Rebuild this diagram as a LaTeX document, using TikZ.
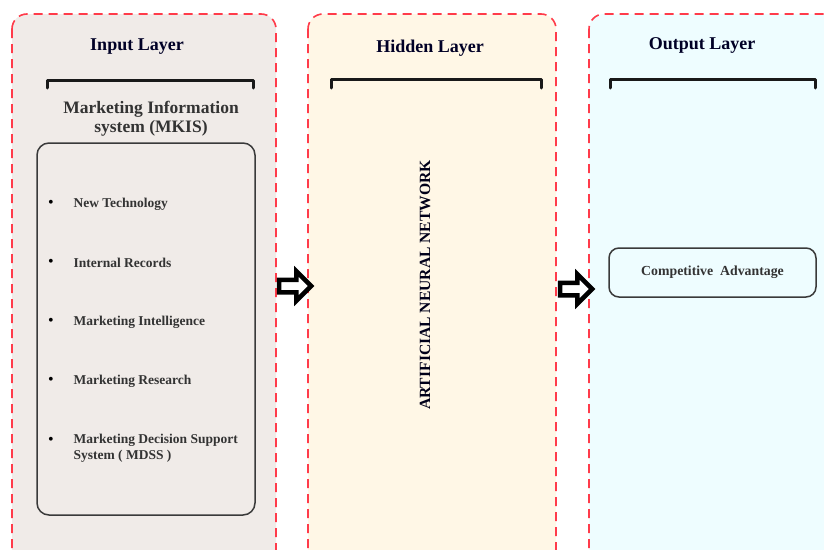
\documentclass[tikz,border=0pt]{standalone}
\usepackage{fontspec}
\setmainfont{Liberation Serif}
\usetikzlibrary{shapes.arrows}

\definecolor{dashred}{HTML}{FF3B4A}
\definecolor{inputfill}{HTML}{F0EBE8}
\definecolor{hiddenfill}{HTML}{FFF7E6}
\definecolor{outputfill}{HTML}{EEFDFF}
\definecolor{boxline}{HTML}{3A3A3A}

\tikzset{
  panel/.style={draw=dashred, dashed, dash pattern=on 9pt off 6pt, line width=1.6pt, rounded corners=15pt},
  title/.style={font=\bfseries\fontsize{18}{20}\selectfont, text=black!85!blue},
  bracket/.style={line width=3pt, line cap=round, line join=round, black!90},
  item/.style={font=\bfseries\fontsize{13.5}{16}\selectfont, anchor=west, align=left, text=black!80},
  dot/.style={font=\fontsize{16}{20}\selectfont, anchor=center},
  blockarrow/.style={single arrow, draw=black, fill=white, line width=4.5pt, inner sep=4pt,
    minimum height=32pt, single arrow head extend=8.5pt, single arrow tip angle=90}
}

\begin{document}
\begin{tikzpicture}[x=1pt, y=-1pt]
  \useasboundingbox (0,0) rectangle (824,549);
  \clip (0,0) rectangle (824,549);

  % Draw the three layers
  \draw[panel, fill=inputfill] (12,14) rectangle (276,570);
  \draw[panel, fill=hiddenfill] (308,14) rectangle (556,570);
  \draw[panel, fill=outputfill] (589,14) rectangle (850,570);

  % Titles of the layers
  \node[title] (intitle) at (137,47) {Input Layer};
  \node[title] (hidtitle) at (430,48) {Hidden Layer};
  \node[title] (outtitle) at (702,45) {Output Layer};

  % Brackets under the titles
  \draw[bracket] (47,88) -- (47,80) -- (253,80) -- (253,88);
  \draw[bracket] (331,88) -- (331,79) -- (541,79) -- (541,88);
  \draw[bracket] (610,88) -- (610,79) -- (815,79) -- (815,88);

  % Input layer contents
  \node[font=\bfseries\fontsize{17.5}{19}\selectfont, align=center, text=black!80] (mkis) at (151,119)
    {Marketing Information\\system (MKIS)};
  \draw[boxline, line width=1.5pt, rounded corners=12pt] (37,143) rectangle (255,515);

  \node[dot] (d1) at (51,204) {\textbullet};
  \node[item] (tech) at (70,204) {New Technology};
  \node[dot] (d2) at (51,263) {\textbullet};
  \node[item] (records) at (70,263) {Internal Records};
  \node[dot] (d3) at (51,322) {\textbullet};
  \node[item] (intel) at (70,322) {Marketing Intelligence};
  \node[dot] (d4) at (51,381) {\textbullet};
  \node[item] (research) at (70,381) {Marketing Research};
  \node[dot] (d5) at (51,441) {\textbullet};
  \node[item] (mdss) at (70,448) {Marketing Decision Support\\System ( MDSS )};

  % Hidden layer text
  \node[rotate=90, font=\bfseries\fontsize{15.6}{18}\selectfont, text=black!90!blue] (ann) at (425,285)
    {ARTIFICIAL NEURAL NETWORK};

  % Output layer box
  \node[draw=boxline, line width=1.5pt, rounded corners=10pt, minimum width=207pt, minimum height=49pt,
    font=\bfseries\fontsize{13.8}{16}\selectfont, text=black!80] (adv) at (712.5,272.5)
    {Competitive\ \ Advantage};

  % Arrows between the layers
  \node[blockarrow] (arrowone) at (292,286) {};
  \node[blockarrow] (arrowtwo) at (573,289) {};
\end{tikzpicture}
\end{document}
